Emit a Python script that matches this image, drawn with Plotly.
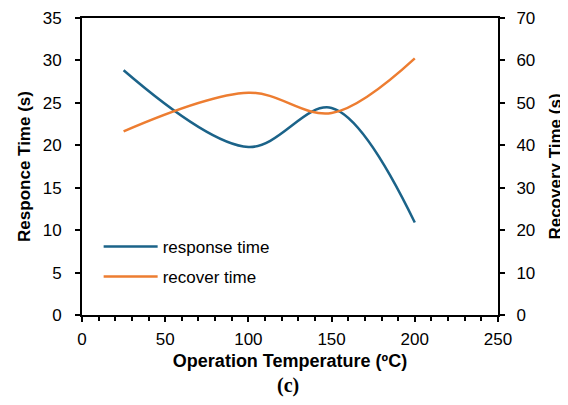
import plotly.graph_objects as go

temperature = [25, 100, 150, 200]
response_time = [28.85, 19.8, 24.4, 10.9]
recover_time = [43.3, 52.4, 47.6, 60.5]

x_ticks = [0, 50, 100, 150, 200, 250]
left_ticks = [0, 5, 10, 15, 20, 25, 30, 35]
right_ticks = [0, 10, 20, 30, 40, 50, 60, 70]

BLUE = "#1b6389"
ORANGE = "#ed7d31"
FONT = "Liberation Sans, Arial, sans-serif"

fig = go.Figure()
fig.add_trace(go.Scatter(
    x=temperature, y=response_time, name="response time", mode="lines",
    line=dict(color=BLUE, width=2.5, shape="spline", smoothing=1.0),
    legendgroup="a", yaxis="y"))
fig.add_trace(go.Scatter(
    x=temperature, y=recover_time, name="recover time", mode="lines",
    line=dict(color=ORANGE, width=2.5, shape="spline", smoothing=1.0),
    legendgroup="b", yaxis="y2"))

axis_common = dict(showline=True, linecolor="black", linewidth=2, showgrid=False,
                   zeroline=False, ticks="outside", tickcolor="black", tickwidth=1.5,
                   ticklen=5, automargin=False, ticklabeloverflow="allow",
                   tickfont=dict(family=FONT, size=17, color="black"))

# the page body adds an 8px offset, so the figure is sized to fill the rest of the window
fig.update_layout(
    width=560, height=400,
    margin=dict(l=74, r=70, t=10, b=93),
    paper_bgcolor="white", plot_bgcolor="white",
    font=dict(family=FONT, color="black"),
    xaxis=dict(range=[0, 250], tickvals=x_ticks, mirror=True,
               minor=dict(dtick=10, ticks="outside", ticklen=4, tickcolor="black", tickwidth=1.5),
               title=dict(text="<b>Operation Temperature (ºC)</b>", standoff=6,
                          font=dict(family=FONT, size=18, color="black")),
               ticklabelstandoff=3,
               **axis_common),
    yaxis=dict(range=[0, 35], tickvals=left_ticks,
               title=dict(text="<b>Responce Time (s)</b>", standoff=8,
                          font=dict(family=FONT, size=17, color="black")),
               ticklabelstandoff=10,
               **axis_common),
    yaxis2=dict(range=[0, 70], tickvals=right_ticks, overlaying="y", side="right",
                title=dict(text="<b>Recovery Time (s)</b>", standoff=15,
                           font=dict(family=FONT, size=17, color="black")),
                ticklabelstandoff=8,
                **axis_common),
    legend=dict(x=0.04, y=0.29, xanchor="left", yanchor="top",
                bgcolor="rgba(0,0,0,0)", traceorder="grouped", tracegroupgap=5,
                itemwidth=54,
                font=dict(family=FONT, size=17, color="black")),
    annotations=[dict(text="<b>(c)</b>", xref="paper", yref="paper", x=0.495, y=-0.236,
                      xanchor="center", yanchor="middle", showarrow=False,
                      font=dict(family="Liberation Serif, Times New Roman, serif", size=20, color="black"))],
)

fig.write_html("out.html")
